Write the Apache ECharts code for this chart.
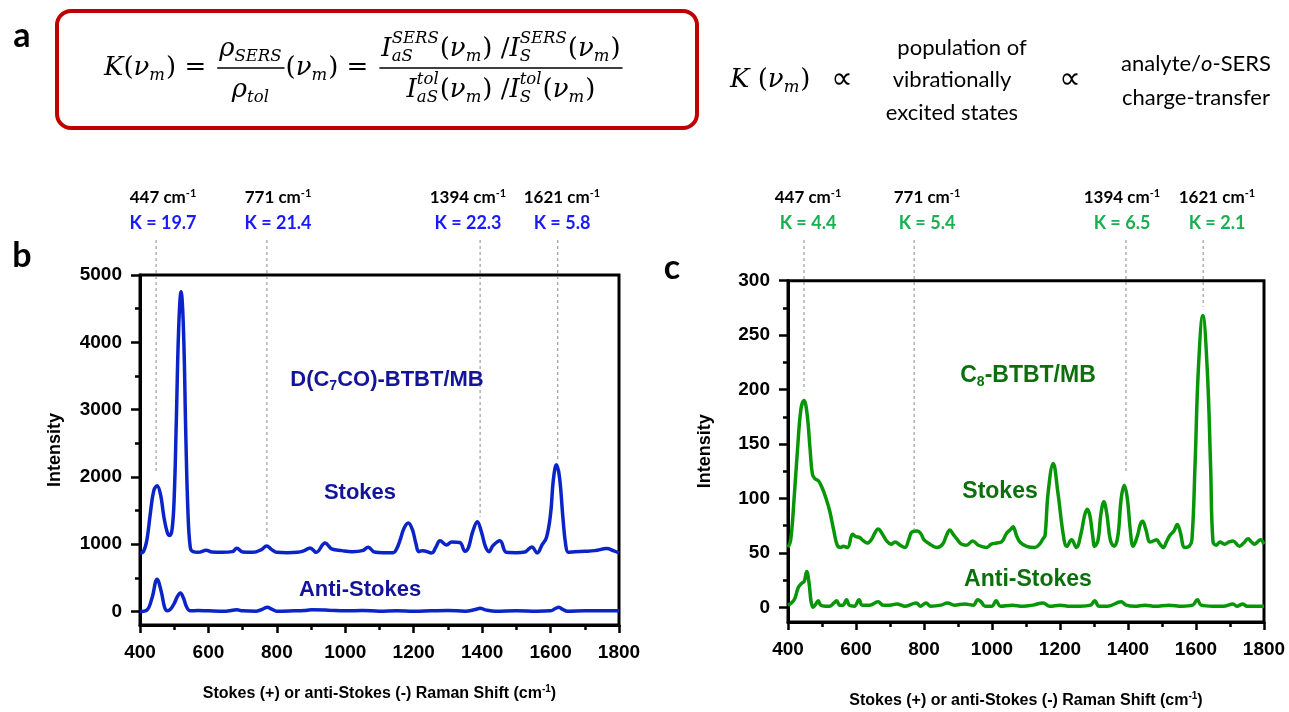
<!DOCTYPE html>
<html><head><meta charset="utf-8">
<script src="https://cdn.jsdelivr.net/npm/echarts@6/dist/echarts.min.js"></script>
<style>html,body{margin:0;padding:0;background:#fff}#c{width:1289px;height:712px}</style>
</head><body><div id="c"></div><script>
// ---------- DATA ----------
const xTicks = [400, 600, 800, 1000, 1200, 1400, 1600, 1800];
const yTicksB = [0, 1000, 2000, 3000, 4000, 5000];
const yMinorB = [500, 1500, 2500, 3500, 4500];
const yTicksC = [0, 50, 100, 150, 200, 250, 300];
const yMinorC = [25, 75, 125, 175, 225, 275];

const peakShifts = [447, 771, 1394, 1621];
const kValuesB = ['19.7', '21.4', '22.3', '5.8'];
const kValuesC = ['4.4', '5.4', '6.5', '2.1'];
const dashEndB = [2050, 1065, 1410, 2250];
const dashEndC = [199, 72, 123, 276];

// panel b, Stokes
const bStokesX = [400,410,420,430,440,450,460,470,480,487,494,500,506,513,520,527,534,540,547,555,570,594,610,640,670,683,700,730,755,770,785,800,830,860,880,897,915,941,960,990,1020,1050,1067,1085,1110,1140,1150,1160,1172,1184,1196,1206,1215,1226,1253,1265,1277,1296,1311,1335,1350,1360,1372,1386,1398,1410,1420,1432,1452,1471,1500,1525,1545,1561,1575,1588,1600,1608,1617,1626,1636,1644,1652,1670,1700,1730,1764,1785,1800];
const bStokesY = [868,890,1060,1450,1790,1870,1740,1400,1170,1130,1230,1700,2800,4200,4750,4200,2600,1500,950,890,880,910,885,880,890,940,885,880,920,975,920,880,875,880,905,945,880,1020,930,905,890,905,955,885,875,875,930,1060,1240,1315,1220,1020,890,905,870,960,1050,990,1035,1025,895,950,1180,1335,1180,960,890,980,1050,880,875,885,960,870,990,1100,1450,1950,2180,2000,1400,1000,880,890,895,905,935,900,870];
// panel b, anti-Stokes
const bAntiX = [400,420,435,450,462,472,480,490,500,510,518,527,537,547,570,600,650,683,700,740,760,772,785,800,850,880,900,950,1000,1050,1100,1150,1200,1250,1300,1350,1380,1394,1410,1440,1500,1560,1600,1614,1624,1636,1650,1700,1750,1800];
const bAntiY = [0,20,200,480,300,60,10,40,120,230,275,200,60,10,15,10,5,25,10,5,40,65,35,5,10,15,25,20,10,15,5,10,5,10,15,5,30,50,25,5,10,5,10,45,65,30,5,10,10,10];
// panel c, Stokes
const cStokesX = [400,408,418,428,438,447,456,465,472,480,490,500,512,523,535,545,555,562,575,590,600,611,622,633,645,655,665,678,690,703,715,730,744,755,764,780,790,800,808,822,838,855,866,876,886,896,910,925,943,960,984,998,1013,1028,1043,1056,1062,1072,1082,1102,1126,1140,1150,1156,1165,1180,1194,1210,1220,1234,1248,1262,1272,1280,1288,1296,1302,1312,1320,1329,1338,1348,1359,1370,1380,1389,1398,1407,1415,1428,1436,1443,1452,1465,1475,1484,1494,1504,1513,1523,1535,1545,1553,1567,1580,1588,1597,1607,1620,1633,1643,1650,1660,1670,1684,1697,1709,1728,1740,1753,1763,1772,1781,1789,1800];
const cStokesY = [55,62,100,145,182,190,178,145,122,118,116,110,100,88,70,57,55,56,55,67,65,64,61,59,62,68,72,67,61,58,60,57,55,62,69,70,68,62,60,57,55,58,66,71,67,63,58,57,61,57,55,58,59,60,68,72,74,66,60,56,55,58,63,66,105,132,105,66,56,62,55,68,84,90,84,66,56,62,85,97,85,62,56,65,100,112,100,70,56,66,76,79,72,60,61,62,58,55,60,66,70,76,70,55,56,62,129,219,268,219,129,60,57,60,58,60,61,56,59,63,60,58,60,62,58];
// panel c, anti-Stokes
const cAntiX = [400,410,420,430,440,448,455,462,468,474,482,489,496,510,523,535,543,552,562,572,580,595,609,618,640,665,680,699,720,745,777,790,806,820,850,869,890,920,945,958,968,980,1000,1012,1025,1060,1090,1120,1150,1170,1200,1230,1260,1290,1302,1315,1340,1380,1395,1420,1450,1480,1520,1560,1590,1604,1615,1650,1680,1709,1720,1738,1750,1780,1800];
const cAntiY = [2,4,8,18,22,24,33,22,5,0,3,6,2,1,1,4,6,2,2,7,2,1,7,2,2,5,2,2,3,1,4,1,4,1,2,4,2,3,2,7,5,1,1,6,1,2,1,2,4,1,2,1,1,2,6,1,1,5,2,1,2,1,2,1,2,7,2,1,1,3,1,3,1,1,1];

// ---------- STYLE ----------
const AX = 'Liberation Sans';
const CAL = 'Lato';
const MF = 'DejaVu Serif';
const BLUE = '#0b24c8', BLUE_T = '#14149a', BLUE_K = '#1a1aff';
const GREEN = '#089608', GREEN_T = '#0b700b', GREEN_K = '#19b052';

const zip = (xs, ys) => xs.map((x, i) => [x, ys[i]]);
const plain = v => String(v);

function xAx(gi, gap) {
  return {
    type: 'value', gridIndex: gi, min: 400, max: 1800, interval: 200,
    axisLine: {show: true, onZero: false, lineStyle: {color: '#000', width: 3}},
    axisTick: {show: true, inside: false, length: 8, lineStyle: {color: '#000', width: 2.5}},
    minorTick: {show: true, splitNumber: 2, length: 5, lineStyle: {color: '#000', width: 2.5}},
    splitLine: {show: false}, minorSplitLine: {show: false},
    axisLabel: {formatter: plain, fontFamily: AX, fontWeight: 'bold', fontSize: 19, color: '#000', margin: 18},
    name: 'Stokes (+) or anti-Stokes (-) Raman Shift (cm{sup|-1})',
    nameLocation: 'middle', nameGap: gap,
    nameTextStyle: {fontFamily: AX, fontWeight: 'bold', fontSize: 16, color: '#000', lineHeight: 20,
      rich: {sup: {fontFamily: AX, fontWeight: 'bold', fontSize: 10, color: '#000', verticalAlign: 'top', lineHeight: 10}}}
  };
}
function yAx(gi, min, max, ticks, gap) {
  return {
    type: 'value', gridIndex: gi, min: min, max: max, position: 'left',
    axisLine: {show: true, onZero: false, lineStyle: {color: '#000', width: 3}},
    axisTick: {show: true, inside: false, length: 9, customValues: ticks, lineStyle: {color: '#000', width: 2.5}},
    axisLabel: {customValues: ticks, formatter: plain, fontFamily: AX, fontWeight: 'bold', fontSize: 19, color: '#000', margin: 18},
    splitLine: {show: false},
    name: 'Intensity', nameLocation: 'middle', nameGap: gap,
    nameTextStyle: {fontFamily: AX, fontWeight: 'bold', fontSize: 18, color: '#000'}
  };
}
function yMinor(gi, min, max, ticks) {
  return {
    type: 'value', gridIndex: gi, min: min, max: max, position: 'left', offset: 0,
    axisLine: {show: false}, axisLabel: {show: false}, splitLine: {show: false},
    axisTick: {show: true, inside: false, length: 5, customValues: ticks, lineStyle: {color: '#000', width: 2.5}}
  };
}
function line(xi, yi, data, color) {
  return {type: 'line', xAxisIndex: xi, yAxisIndex: yi, data: data, showSymbol: false, symbol: 'none',
    smooth: 0.4, lineStyle: {color: color, width: 3.5}, z: 3, silent: true, animation: false};
}

const chart = echarts.init(document.getElementById('c'), null, {renderer: 'canvas'});
chart.setOption({
  animation: false,
  backgroundColor: '#fff',
  grid: [
    {left: 140, top: 275, width: 479, height: 350, show: true, borderColor: '#000', borderWidth: 3, containLabel: false},
    {left: 788, top: 280.7, width: 476, height: 347.6, show: true, borderColor: '#000', borderWidth: 3, containLabel: false}
  ],
  xAxis: [xAx(0, 59), xAx(1, 69)],
  yAxis: [yAx(0, -200, 5000, yTicksB, 76), yMinor(0, -200, 5000, yMinorB), yAx(1, -13.5, 300, yTicksC, 74), yMinor(1, -13.5, 300, yMinorC)],
  series: [
    line(0, 0, zip(bStokesX, bStokesY), BLUE),
    line(0, 0, zip(bAntiX, bAntiY), BLUE),
    line(1, 2, zip(cStokesX, cStokesY), GREEN),
    line(1, 2, zip(cAntiX, cAntiY), GREEN)
  ]
});

// ---------- GRAPHICS ----------
const G = [];
function txt(x, y, text, o) {
  o = o || {};
  const st = Object.assign({text: text, fontFamily: AX, fontSize: 16, fill: '#000',
    align: 'center', textAlign: 'center', verticalAlign: 'middle', textVerticalAlign: 'middle'}, o);
  G.push({type: 'text', x: x, y: y, z: 20, silent: true, style: st});
}
// panel letters
txt(22, 36, 'a', {fontFamily: CAL, fontWeight: 'bold', fontSize: 34});
txt(22, 256, 'b', {fontFamily: CAL, fontWeight: 'bold', fontSize: 34});
txt(672, 268, 'c', {fontFamily: CAL, fontWeight: 'bold', fontSize: 34});

// formula box
G.push({type: 'rect', z: 5, silent: true, shape: {x: 57, y: 11, width: 640, height: 117, r: 14},
  style: {fill: 'none', stroke: '#c00000', lineWidth: 4}});

// math layout
const MS = 26, SS = 16.5;
const cv = document.createElement('canvas').getContext('2d');
function tw(t, size, it) { cv.font = (it ? 'italic ' : '') + size + 'px "' + MF + '"'; return cv.measureText(t).width; }
function tokW(tok) {
  if (tok.t != null) return tw(tok.t, MS, tok.i);
  return Math.max(tok.sub ? tw(tok.sub, SS, true) : 0, tok.sup ? tw(tok.sup, SS, true) : 0) + 1;
}
function rowW(toks) { return toks.reduce((a, t) => a + tokW(t), 0); }
function mtxt(x, y, t, size, it) {
  G.push({type: 'text', x: x, y: y, z: 20, silent: true, style: {text: t, fontFamily: MF, fontSize: size,
    fontStyle: it ? 'italic' : 'normal', fill: '#000', align: 'left', textAlign: 'left', verticalAlign: 'middle', textVerticalAlign: 'middle'}});
}
function placeRow(toks, x0, y) {
  let x = x0;
  toks.forEach(tok => {
    if (tok.t != null) mtxt(x, y, tok.t, MS, tok.i);
    else {
      if (tok.sub) mtxt(x, y + 8, tok.sub, SS, true);
      if (tok.sup) mtxt(x, y - 10, tok.sup, SS, true);
    }
    x += tokW(tok);
  });
  return x;
}
function hline(x1, x2, y) {
  G.push({type: 'line', z: 20, silent: true, shape: {x1: x1, y1: y, x2: x2, y2: y}, style: {stroke: '#000', lineWidth: 1.4}});
}
function frac(num, den, x0, y) {
  const wn = rowW(num), wd = rowW(den), w = Math.max(wn, wd) + 4;
  placeRow(num, x0 + (w - wn) / 2, y - 19);
  placeRow(den, x0 + (w - wd) / 2, y + 22);
  hline(x0, x0 + w, y);
  return x0 + w;
}
const I = s => ({t: s, i: 1}), U = s => ({t: s, i: 0}), SB = s => ({sub: s}), SP = (sub, sup) => ({sub: sub, sup: sup});
const rowK = [I('K'), U('('), I('ν'), SB('m'), U(')'), U(' =')];
const num1 = [I('ρ'), SB('SERS')], den1 = [I('ρ'), SB('tol')];
const rowB = [U('('), I('ν'), SB('m'), U(')'), U(' =')];
const num2 = [I('I'), SP('aS', 'SERS'), U('('), I('ν'), SB('m'), U(') /'), I('I'), SP('S', 'SERS'), U('('), I('ν'), SB('m'), U(')')];
const den2 = [I('I'), SP('aS', 'tol'), U('('), I('ν'), SB('m'), U(') /'), I('I'), SP('S', 'tol'), U('('), I('ν'), SB('m'), U(')')];
let fx = placeRow(rowK, 104, 68);
fx = frac(num1, den1, fx + 11, 68);
fx = placeRow(rowB, fx + 1, 68);
frac(num2, den2, fx + 11, 68);

// right-hand statement
placeRow([I('K'), U(' ('), I('ν'), SB('m'), U(')')], 730, 80);
txt(842, 80, '∝', {fontFamily: 'DejaVu Sans', fontSize: 30});
txt(1070, 80, '∝', {fontFamily: 'DejaVu Sans', fontSize: 30});
txt(962, 48, 'population of', {fontFamily: CAL, fontSize: 22});
txt(952, 80, 'vibrationally', {fontFamily: CAL, fontSize: 22});
txt(952, 113, 'excited states', {fontFamily: CAL, fontSize: 22});
txt(1196, 64, 'analyte/{i|o}-SERS', {fontFamily: CAL, fontSize: 22,
  rich: {i: {fontFamily: CAL, fontSize: 22, fontStyle: 'italic', fill: '#000'}}});
txt(1196, 98, 'charge-transfer', {fontFamily: CAL, fontSize: 22});

// peak labels
const labXB = [163, 278, 468, 562], labXC = [808, 927, 1122, 1217];
function peakLabel(x, shift, k, col) {
  txt(x, 198, shift + ' cm{sup|-1}', {fontFamily: CAL, fontWeight: 'bold', fontSize: 17, lineHeight: 20,
    rich: {sup: {fontFamily: CAL, fontWeight: 'bold', fontSize: 11, fill: '#000', verticalAlign: 'top', lineHeight: 10}}});
  txt(x, 223, 'K = ' + k, {fontFamily: CAL, fontWeight: 'bold', fontSize: 18, fill: col});
}
peakShifts.forEach((s, i) => {
  peakLabel(labXB[i], s, kValuesB[i], BLUE_K);
  peakLabel(labXC[i], s, kValuesC[i], GREEN_K);
});
// dashed guide lines
peakShifts.forEach((s, i) => {
  const pb = chart.convertToPixel({xAxisIndex: 0, yAxisIndex: 0}, [s, dashEndB[i]]);
  G.push({type: 'line', z: 2, silent: true, shape: {x1: pb[0], y1: 240, x2: pb[0], y2: pb[1]},
    style: {stroke: '#8a8a8a', lineWidth: 1, lineDash: [3, 3]}});
  const pc = chart.convertToPixel({xAxisIndex: 1, yAxisIndex: 2}, [s, dashEndC[i]]);
  G.push({type: 'line', z: 2, silent: true, shape: {x1: pc[0], y1: 240, x2: pc[0], y2: pc[1]},
    style: {stroke: '#8a8a8a', lineWidth: 1, lineDash: [3, 3]}});
});

// series captions
const subRich = (col) => ({s: {fontFamily: AX, fontWeight: 'bold', fontSize: 14, fill: col, verticalAlign: 'bottom', lineHeight: 14}});
txt(387, 380, 'D(C{s|7}CO)-BTBT/MB', {fontWeight: 'bold', fontSize: 22, fill: BLUE_T, lineHeight: 26, rich: subRich(BLUE_T)});
txt(360, 493, 'Stokes', {fontWeight: 'bold', fontSize: 22, fill: BLUE_T});
txt(360, 590, 'Anti-Stokes', {fontWeight: 'bold', fontSize: 22, fill: BLUE_T});
txt(1028, 376, 'C{s|8}-BTBT/MB', {fontWeight: 'bold', fontSize: 23, fill: GREEN_T, lineHeight: 27, rich: subRich(GREEN_T)});
txt(1000, 492, 'Stokes', {fontWeight: 'bold', fontSize: 23, fill: GREEN_T});
txt(1028, 580, 'Anti-Stokes', {fontWeight: 'bold', fontSize: 23, fill: GREEN_T});

chart.setOption({graphic: {elements: G}});
</script></body></html>
